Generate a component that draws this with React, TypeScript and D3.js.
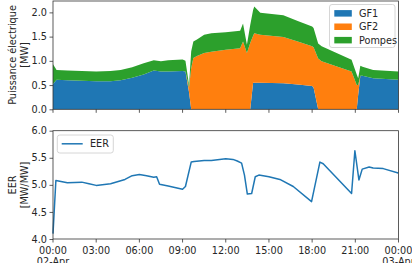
import { useEffect, useRef } from "react";
import * as d3 from "d3";

// Time of each sample, in hours since 02-Apr 00:00
const hours = [
  0, 0.25, 1, 2, 3, 4, 4.7, 5.5, 6.3, 7, 7.5, 8, 9, 9.2, 9.45, 9.6, 9.75, 10, 10.5, 11, 12, 13,
  13.2, 13.47, 13.7, 13.9, 13.98, 14.4, 16, 17, 18, 18.1, 18.42, 18.66, 20.74, 21.1, 21.2, 21.35,
  21.5, 22.24, 24,
];
const gf1 = [
  0.52, 0.61, 0.6, 0.59, 0.58, 0.58, 0.6, 0.65, 0.72, 0.8, 0.78, 0.78, 0.79, 0.78, 0.35, 0, 0, 0, 0,
  0, 0, 0, 0, 0, 0, 0.55, 0.55, 0.55, 0.54, 0.51, 0.48, 0.45, 0, 0, 0, 0, 0.3, 0.69, 0.69, 0.64,
  0.61,
];
const gf2 = [
  0, 0, 0, 0, 0, 0, 0, 0, 0, 0, 0, 0, 0, 0, 0.1, 0.85, 1.06, 1.1, 1.16, 1.19, 1.23, 1.26, 1.4, 1.16,
  1.37, 0.97, 1.02, 0.99, 0.95, 0.89, 0.82, 0.83, 1.05, 0.99, 0.78, 0.5, 0.2, 0, 0, 0, 0,
];
const pompes = [
  0.41, 0.2, 0.2, 0.2, 0.2, 0.21, 0.21, 0.22, 0.23, 0.21, 0.21, 0.23, 0.24, 0.22, 0.05, 0.35, 0.34,
  0.34, 0.38, 0.38, 0.36, 0.36, 0.37, 0.17, 0.37, 0.53, 0.55, 0.45, 0.45, 0.42, 0.41, 0.4, 0.31,
  0.31, 0.24, 0.22, 0.14, 0.21, 0.19, 0.17, 0.17,
];

// EER curve
const eerHours = [
  0, 0.2, 1, 2, 2.5, 3, 4, 5, 5.5, 6, 6.5, 7, 7.2, 7.4, 8, 9, 9.2, 9.6, 9.8, 10.5, 11, 12, 12.5,
  12.8, 13.1, 13.3, 13.5, 13.8, 14.05, 14.3, 15, 15.76, 16.69, 17.96, 18.54, 18.77, 20.74, 20.97,
  21.25, 21.48, 21.96, 22.24, 22.94, 23.98,
];
const eer = [
  4.1, 5.08, 5.04, 5.05, 5.02, 4.99, 5.02, 5.1, 5.17, 5.19, 5.17, 5.14, 5.15, 5.01, 4.98, 4.92, 4.97,
  5.42, 5.43, 5.45, 5.45, 5.48, 5.47, 5.44, 5.4, 5.18, 4.83, 4.84, 5.15, 5.18, 5.15, 5.1, 4.97, 4.69,
  5.42, 5.39, 4.84, 5.63, 5.09, 5.29, 5.33, 5.31, 5.3, 5.22,
];

const seriesNames = ["GF1", "GF2", "Pompes"];
const seriesColors = ["#1f77b4", "#ff7f0e", "#2ca02c"];
const xTicks = [0, 3, 6, 9, 12, 15, 18, 21, 24];
const xTickLabels = ["00:00", "03:00", "06:00", "09:00", "12:00", "15:00", "18:00", "21:00", "00:00"];
const xTickDates = ["02-Apr", "", "", "", "", "", "", "", "03-Apr"];
const powerTicks = [0, 0.5, 1, 1.5, 2];
const eerTicks = [4, 4.5, 5, 5.5, 6];

const App = () => {
  const ref = useRef<SVGSVGElement>(null);

  useEffect(() => {
    const svg = d3.select(ref.current);
    svg.selectAll("*").remove();

    const font = "DejaVu Sans, sans-serif";
    const fs = 9.7;
    const textColor = "#262626";
    const left = 53;
    const right = 398.5;

    const x = d3.scaleLinear().domain([0, 24]).range([left, right]);
    const yTop = d3.scaleLinear().domain([0, 2.235]).range([109.3, 1]);
    const yBot = d3.scaleLinear().domain([4, 6]).range([239, 130.7]);

    // stacked areas
    const table = hours.map((h, i) => ({ h, GF1: gf1[i], GF2: gf2[i], Pompes: pompes[i] }));
    const stacked = d3.stack<any>().keys(seriesNames)(table);
    const area = d3
      .area<any>()
      .x((d) => x(d.data.h))
      .y0((d) => yTop(d[0]))
      .y1((d) => yTop(d[1]));

    svg
      .append("g")
      .selectAll("path")
      .data(stacked)
      .join("path")
      .attr("d", (d) => area(d))
      .attr("fill", (d, i) => seriesColors[i]);

    // EER line
    const line = d3
      .line<number>()
      .x((d, i) => x(eerHours[i]))
      .y((d) => yBot(d));
    svg
      .append("path")
      .attr("d", line(eer))
      .attr("fill", "none")
      .attr("stroke", "#1f77b4")
      .attr("stroke-width", 1.5)
      .attr("stroke-linejoin", "round");

    // frames
    const drawFrame = (y0: number, y1: number) => {
      svg
        .append("rect")
        .attr("x", left)
        .attr("y", y0)
        .attr("width", right - left)
        .attr("height", y1 - y0)
        .attr("fill", "none")
        .attr("stroke", "#333")
        .attr("stroke-width", 0.8);
    };
    drawFrame(1, 109.3);
    drawFrame(130.7, 239);

    // y axes
    const drawYAxis = (scale: any, ticks: number[]) => {
      const g = svg
        .append("g")
        .attr("transform", `translate(${left},0)`)
        .call(
          d3
            .axisLeft(scale)
            .tickValues(ticks)
            .tickSize(3.5)
            .tickPadding(2.5)
            .tickFormat((d: any) => d3.format(".1f")(d))
        );
      g.select(".domain").remove();
      g.selectAll("line").attr("stroke", "#333").attr("stroke-width", 0.8);
      g.selectAll("text").attr("font-family", font).attr("font-size", fs).attr("fill", textColor);
    };
    drawYAxis(yTop, powerTicks);
    drawYAxis(yBot, eerTicks);

    // x tick marks on both panels
    [109.3, 239].forEach((yy) => {
      svg
        .append("g")
        .selectAll("line")
        .data(xTicks)
        .join("line")
        .attr("x1", (d) => x(d))
        .attr("x2", (d) => x(d))
        .attr("y1", yy)
        .attr("y2", yy + 3.5)
        .attr("stroke", "#333")
        .attr("stroke-width", 0.8);
    });

    // x tick labels (bottom panel only)
    const labels = svg
      .append("g")
      .attr("font-family", font)
      .attr("font-size", fs)
      .attr("fill", textColor)
      .attr("text-anchor", "middle")
      .selectAll("text")
      .data(xTicks)
      .join("text")
      .attr("x", (d) => x(d))
      .attr("y", 253.5);
    labels.append("tspan").text((d, i) => xTickLabels[i]);
    labels
      .append("tspan")
      .attr("x", (d) => x(d))
      .attr("dy", 11.2)
      .text((d, i) => xTickDates[i]);

    // y labels
    const yLabel = (cx: number, cy: number, txt: string) => {
      svg
        .append("text")
        .attr("transform", `translate(${cx},${cy}) rotate(-90)`)
        .attr("text-anchor", "middle")
        .attr("dominant-baseline", "central")
        .attr("font-family", font)
        .attr("font-size", fs)
        .attr("fill", textColor)
        .text(txt);
    };
    yLabel(12, 55, "Puissance électrique");
    yLabel(24, 55, "[MW]");
    yLabel(12, 185, "EER");
    yLabel(24, 185, "[MW/MW]");

    // legend, top
    const lg = svg.append("g");
    lg.append("rect")
      .attr("x", 329.5)
      .attr("y", 4.5)
      .attr("width", 65.5)
      .attr("height", 43)
      .attr("rx", 2.5)
      .attr("fill", "white")
      .attr("fill-opacity", 0.8)
      .attr("stroke", "#ccc")
      .attr("stroke-width", 0.8);
    seriesNames.forEach((name, i) => {
      const cy = 13.3 + i * 13.4;
      lg.append("rect")
        .attr("x", 334.3)
        .attr("y", cy - 3.2)
        .attr("width", 17.5)
        .attr("height", 6.5)
        .attr("fill", seriesColors[i]);
      lg.append("text")
        .attr("x", 359)
        .attr("y", cy)
        .attr("dominant-baseline", "central")
        .attr("font-family", font)
        .attr("font-size", fs)
        .attr("fill", textColor)
        .text(name);
    });

    // legend, bottom
    const lb = svg.append("g");
    lb.append("rect")
      .attr("x", 57.3)
      .attr("y", 135)
      .attr("width", 56)
      .attr("height", 18)
      .attr("rx", 2.5)
      .attr("fill", "white")
      .attr("fill-opacity", 0.8)
      .attr("stroke", "#ccc")
      .attr("stroke-width", 0.8);
    lb.append("line")
      .attr("x1", 61.7)
      .attr("x2", 82.7)
      .attr("y1", 143.8)
      .attr("y2", 143.8)
      .attr("stroke", "#1f77b4")
      .attr("stroke-width", 1.5);
    lb.append("text")
      .attr("x", 90)
      .attr("y", 143.8)
      .attr("dominant-baseline", "central")
      .attr("font-family", font)
      .attr("font-size", fs)
      .attr("fill", textColor)
      .text("EER");
  }, []);

  return (
    <svg
      ref={ref}
      width={412}
      height={263}
      style={{ position: "absolute", left: 0, top: 0, background: "white" }}
    />
  );
};

export default App;
